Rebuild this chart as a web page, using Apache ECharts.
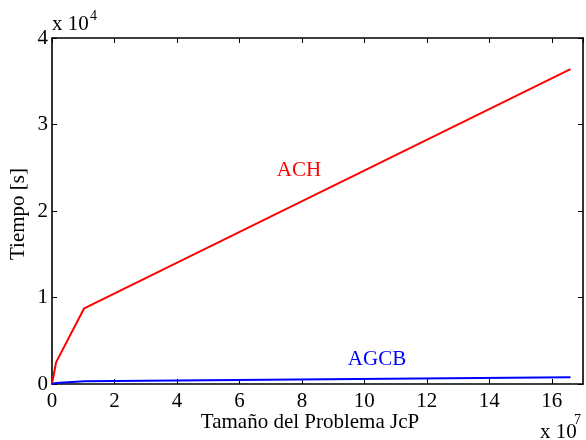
<!DOCTYPE html>
<html>
<head>
<meta charset="utf-8">
<script src="https://cdn.jsdelivr.net/npm/echarts@6/dist/echarts.min.js"></script>
<style>
html,body{margin:0;padding:0;background:#fff;}
#c{width:586px;height:440px;}
</style>
</head>
<body>
<div id="c"></div>
<script>
var problemSize = [0, 0.13e7, 1.03e7, 16.6e7];
var achTime = [0, 2500, 8750, 36400];
var agcbSize = [0, 0.13e7, 1.03e7, 16.6e7];
var agcbTime = [0, 120, 330, 780];
var xTicks = [0, 2, 4, 6, 8, 10, 12, 14, 16];
var yTicks = [0, 1, 2, 3, 4];

var FONT = 'Liberation Serif';
var chart = echarts.init(document.getElementById('c'));

function pairs(xs, ys){ return xs.map(function(x,i){ return [x, ys[i]]; }); }

var gridL = 52, gridT = 38, gridR = 3, gridB = 56;
function common(){
  return {
    axisLine:{show:true, onZero:false, lineStyle:{color:'#000', width:1.6}},
    axisTick:{show:true, inside:true, length:5, lineStyle:{color:'#000', width:1}},
    splitLine:{show:false}
  };
}

chart.setOption({
  animation:false,
  backgroundColor:'#fff',
  grid:{left:gridL, top:gridT, right:gridR, bottom:gridB, show:false},
  xAxis:[
    Object.assign({type:'value', position:'bottom', min:0, max:17e7, interval:2e7,
      axisLabel:{show:true, margin:7, fontFamily:FONT, fontSize:21, color:'#000', showMaxLabel:false,
        formatter:function(v){ var t=v/1e7; return xTicks.indexOf(Math.round(t))>=0 && Math.abs(t-Math.round(t))<1e-9 ? String(Math.round(t)) : ''; }}
    }, common()),
    Object.assign({type:'value', position:'top', min:0, max:17e7, interval:2e7, axisLabel:{show:false}}, common())
  ],
  yAxis:[
    Object.assign({type:'value', position:'left', min:0, max:4e4, interval:1e4,
      axisLabel:{show:true, margin:4, fontFamily:FONT, fontSize:21, color:'#000',
        formatter:function(v){ var t=v/1e4; return yTicks.indexOf(t)>=0 ? String(t) : ''; }}
    }, common()),
    Object.assign({type:'value', position:'right', min:0, max:4e4, interval:1e4, axisLabel:{show:false}}, common())
  ],
  series:[
    {name:'ACH', type:'line', data:pairs(problemSize, achTime), showSymbol:false, symbol:'none',
      lineStyle:{color:'#ff0000', width:2}},
    {name:'AGCB', type:'line', data:pairs(agcbSize, agcbTime), showSymbol:false, symbol:'none',
      lineStyle:{color:'#0000ff', width:2}}
  ],
  graphic:[
    {type:'text', left:52, top:14, style:{text:'x 10', font:'21px "Liberation Serif"', fill:'#000'}},
    {type:'text', left:90, top:9, style:{text:'4', font:'14px "Liberation Serif"', fill:'#000'}},
    {type:'text', left:540, top:422, style:{text:'x 10', font:'21px "Liberation Serif"', fill:'#000'}},
    {type:'text', left:574, top:413, style:{text:'7', font:'14px "Liberation Serif"', fill:'#000'}},
    {type:'text', x:310, y:422, style:{text:'Tamaño del Problema JcP', font:'21px "Liberation Serif"', fill:'#000', textAlign:'center', textVerticalAlign:'middle'}},
    {type:'text', x:18, y:214, rotation:Math.PI/2, style:{text:'Tiempo [s]', font:'21px "Liberation Serif"', fill:'#000', textAlign:'center', textVerticalAlign:'middle'}},
    {type:'text', x:299, y:170, style:{text:'ACH', font:'21px "Liberation Serif"', fill:'#ff0000', textAlign:'center', textVerticalAlign:'middle'}},
    {type:'text', x:377, y:359, style:{text:'AGCB', font:'21px "Liberation Serif"', fill:'#0000ff', textAlign:'center', textVerticalAlign:'middle'}}
  ]
});
</script>
</body>
</html>
